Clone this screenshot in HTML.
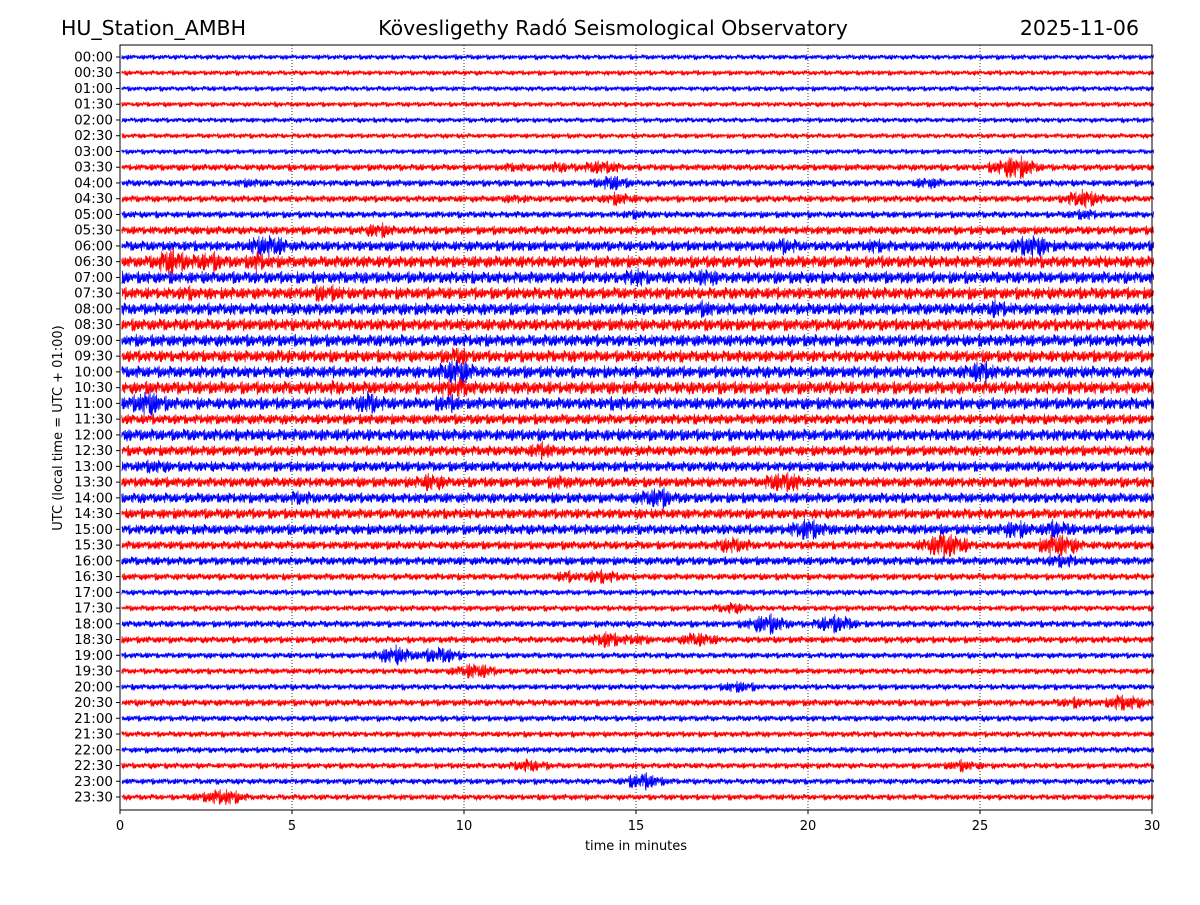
<!DOCTYPE html>
<html><head><meta charset="utf-8">
<style>
html,body{margin:0;padding:0;background:#fff;}
body{width:1200px;height:900px;overflow:hidden;font-family:"Liberation Sans","DejaVu Sans",sans-serif;}
svg text{font-family:"DejaVu Sans","Liberation Sans",sans-serif;}
</style></head>
<body>
<svg id="chart" width="1200" height="900" viewBox="0 0 1200 900" xmlns="http://www.w3.org/2000/svg">
<rect x="0" y="0" width="1200" height="900" fill="#fff"/>
<text x="61" y="35" font-size="20.5">HU_Station_AMBH</text>
<text x="613" y="35" font-size="20.5" text-anchor="middle">Kövesligethy Radó Seismological Observatory</text>
<text x="1139" y="35" font-size="20.5" text-anchor="end">2025-11-06</text>
<g id="grid"></g>
<g id="traces"></g>
<g id="axes"></g>
<text x="636" y="850" font-size="13" text-anchor="middle">time in minutes</text>
<text x="62" y="428" font-size="13" text-anchor="middle" transform="rotate(-90 62 428)">UTC (local time = UTC + 01:00)</text>
</svg>
<script>
const rowLabels = [];
for (let h = 0; h < 24; h++) { const hh = String(h).padStart(2,'0'); rowLabels.push(hh+':00', hh+':30'); }
const xTicks = [0,5,10,15,20,25,30];
const baseAmp = [2.5,2.5,2.5,2.5,2.5,2.5,2.5,3.5,3.5,3.5,3.5,4.5,5.5,6.5,6.5,6.5,6.5,6.5,6.5,6.5,6.5,7,6.5,5.5,6.5,5.5,5.5,5.5,5.5,5.5,5.5,4.5,4.5,3.5,3,3,3.5,3.5,3,3,3,3.5,3,3,3,3,3,3];
const evRow = [7,7,7,7,8,8,8,9,9,9,10,10,11,12,12,12,12,13,13,13,14,14,15,15,16,16,19,19,20,20,21,21,22,22,22,22,25,26,27,27,27,28,28,30,30,30,31,31,31,32,33,33,35,36,36,37,37,37,38,38,39,40,41,41,45,45,46,47,47];
const evMin = [14,12.8,11.5,26,3.8,14.3,23.5,28,11.5,14.5,15,28,7.5,4.3,19.3,22,26.5,1.5,2.6,4,15,17,6,2,17,25.5,4.7,9.8,9.8,25,9.8,6.3,0.8,7.2,9.5,14.5,12.3,1,9,19.3,12.8,15.6,5.2,20,26,27.2,24,27.3,17.8,27.4,14,13,17.8,18.8,20.8,14.2,16.8,15,8,9.3,10.3,18,29.2,27.7,11.9,24.5,15.2,3,2.6];
const evAmp = [9,7,6,14,6,9,7,11,6,8,6,7,9,14,10,9,14,15,13,11,11,11,11,9,10,11,9,11,16,13,13,9,15,13,11,9,10,9,11,13,9,13,9,13,11,11,16,14,10,9,9,7,7,12,11,10,9,7,11,10,10,7,10,7,8,7,10,10,7];

const X0=120, X1=1152, Y0=45, Y1=810, R0=57, R1=797;
const xs = m => X0 + (m/30)*(X1-X0);
const ys = i => R0 + i*(R1-R0)/47;
const NS = 'http://www.w3.org/2000/svg';
const pattern = [1,-0.55,0.85,-0.3,0.7,-0.95,0.4,-0.65,0.9,-0.2,0.6,-0.8,0.35,-1,0.75,-0.45,0.95,-0.6,0.25,-0.85,0.5,-0.7,0.15,-0.9,0.8,-0.35,0.65,-0.5,1,-0.25,0.45,-0.75,0.3,-0.6,0.9,-0.4,0.55];
const texture = [0.7,1,0.85,0.55,0.95,0.75,1,0.6,0.9,0.8,0.65,1,0.7,0.85,0.5,0.95,0.8,0.6,1,0.75,0.9,0.65,0.85];
const grid = document.getElementById('grid');
xTicks.slice(1,-1).forEach(t=>{
  const l=document.createElementNS(NS,'line');
  
  
  l.setAttribute('x1',xs(t));l.setAttribute('x2',xs(t));l.setAttribute('y1',Y0);l.setAttribute('y2',Y1);
  l.setAttribute('stroke','#000');l.setAttribute('stroke-width','0.8');l.setAttribute('stroke-dasharray','1,2');
  grid.appendChild(l);
});
const traces = document.getElementById('traces');
const N = 2400;
rowLabels.forEach((lab,i)=>{
  const y = ys(i);
  let d='';
  for (let k=0;k<=N;k++){
    const m = 30*k/N + 0.05;
    let a = baseAmp[i];
    for (let e=0;e<evRow.length;e++){
      if (evRow[e]!==i) continue;
      const dist=Math.abs(m-evMin[e]);
      if (dist<1.2){ const v=evAmp[e]*(1-dist/1.2); if(v>a)a=v; }
    }
    const tex = texture[Math.floor(k/11 + i*5) % texture.length];
    const v = a*tex*pattern[(k*13+i*7)%pattern.length];
    d += (k?'L':'M') + xs(m).toFixed(1)+' '+(y+v).toFixed(1);
  }
  const p=document.createElementNS(NS,'path');
  
  
  p.setAttribute('d',d);p.setAttribute('fill','none');
  p.setAttribute('stroke', i%2? '#ff0000':'#0000ff');p.setAttribute('stroke-width','0.8');
  traces.appendChild(p);
});
const axes=document.getElementById('axes');
const frame=document.createElementNS(NS,'rect');


frame.setAttribute('x',X0);frame.setAttribute('y',Y0);frame.setAttribute('width',X1-X0);frame.setAttribute('height',Y1-Y0);
frame.setAttribute('fill','none');frame.setAttribute('stroke','#000');frame.setAttribute('stroke-width','1');
axes.appendChild(frame);
rowLabels.forEach((lab,i)=>{
  const y=ys(i);
  const t=document.createElementNS(NS,'line');
  
  
  t.setAttribute('x1',X0-4);t.setAttribute('x2',X0);t.setAttribute('y1',y);t.setAttribute('y2',y);t.setAttribute('stroke','#000');
  axes.appendChild(t);
  const tx=document.createElementNS(NS,'text');
  
  
  tx.setAttribute('x',X0-7);tx.setAttribute('y',y+4.5);tx.setAttribute('font-size','13.5');tx.setAttribute('text-anchor','end');
  tx.textContent=lab;axes.appendChild(tx);
});
xTicks.forEach(v=>{
  const x=xs(v);
  const t=document.createElementNS(NS,'line');
  
  
  t.setAttribute('x1',x);t.setAttribute('x2',x);t.setAttribute('y1',Y1);t.setAttribute('y2',Y1+4);t.setAttribute('stroke','#000');
  axes.appendChild(t);
  const tx=document.createElementNS(NS,'text');
  
  
  tx.setAttribute('x',x);tx.setAttribute('y',Y1+20);tx.setAttribute('font-size','13');tx.setAttribute('text-anchor','middle');
  tx.textContent=v;axes.appendChild(tx);
});
</script>
</body></html>
